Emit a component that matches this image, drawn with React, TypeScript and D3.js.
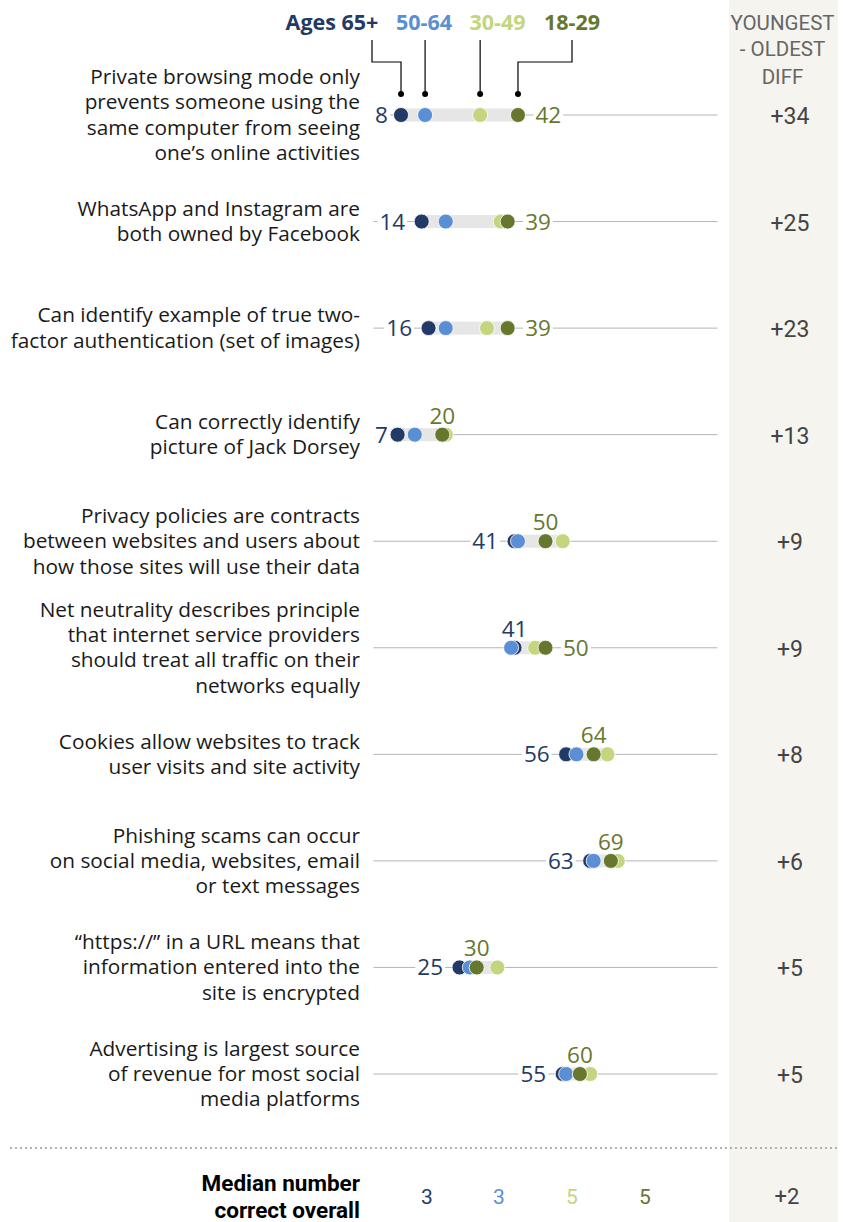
import React from 'react';
import * as d3 from 'd3';

const questions = [
  ['Private browsing mode only', 'prevents someone using the', 'same computer from seeing', 'one\u2019s online activities'],
  ['WhatsApp and Instagram are', 'both owned by Facebook'],
  ['Can identify example of true two-', 'factor authentication (set of images)'],
  ['Can correctly identify', 'picture of Jack Dorsey'],
  ['Privacy policies are contracts', 'between websites and users about', 'how those sites will use their data'],
  ['Net neutrality describes principle', 'that internet service providers', 'should treat all traffic on their', 'networks equally'],
  ['Cookies allow websites to track', 'user visits and site activity'],
  ['Phishing scams can occur', 'on social media, websites, email', 'or text messages'],
  ['\u201Chttps://\u201D in a URL means that', 'information entered into the', 'site is encrypted'],
  ['Advertising is largest source', 'of revenue for most social', 'media platforms']
];

const ageGroups = ['Ages 65+', '50-64', '30-49', '18-29'];
const age65 = [8, 14, 16, 7, 41, 41, 56, 63, 25, 55];
const age50 = [15, 21, 21, 12, 42, 40, 59, 64, 28, 56];
const age30 = [31, 37, 33, 21, 55, 47, 68, 71, 36, 63];
const age18 = [42, 39, 39, 20, 50, 50, 64, 69, 30, 60];
const medians = [3, 3, 5, 5];

const colors = ['#233a66', '#5b8fd5', '#c3d57e', '#66772e'];

const font = '"Open Sans", Roboto, sans-serif';
const narrow = 'Roboto, sans-serif';

const App = () => {
  const width = 843;
  const height = 1222;

  const x = d3.scaleLinear().domain([0, 100]).range([373.5, 717.5]);
  const y = d3
    .scalePoint<number>()
    .domain(questions.map((q, i) => i))
    .range([115, 1074]);

  const series = [age65, age50, age30, age18];
  const r = 7.5;
  const digitW = 12.9;

  // legend centers over the first row
  const legendX = [332, 424, 497.5, 572];
  const firstDots = series.map(s => x(s[0]));
  const connectorY = { top: 40, elbow: 62, dot: 94 };
  const connectors = [
    `M${372},${connectorY.top}V${connectorY.elbow}H${firstDots[0]}V${connectorY.dot}`,
    `M${firstDots[1]},${connectorY.top}V${connectorY.dot}`,
    `M${firstDots[2]},${connectorY.top}V${connectorY.dot}`,
    `M${legendX[3]},${connectorY.top}V${connectorY.elbow}H${firstDots[3]}V${connectorY.dot}`
  ];

  const medianX = [427, 499, 572, 645];

  const rows = questions.map((lines, i) => {
    const cy = y(i)!;
    const vals = series.map(s => s[i]);
    const lo = d3.min(vals)!;
    const hi = d3.max(vals)!;
    const oldIsMin = age65[i] === lo;
    const youngIsMax = age18[i] === hi;
    const lineH = 25.3;
    const startY = cy - ((lines.length - 1) * lineH) / 2;

    const oldW = String(age65[i]).length * digitW;
    const oldLabel = oldIsMin
      ? { x: Math.max(x(age65[i]) - r - 9, 375 + oldW), y: cy + 8, anchor: 'end' }
      : { x: x(age65[i]), y: cy - 11, anchor: 'middle' };
    const youngLabel = youngIsMax
      ? { x: x(age18[i]) + r + 10, y: cy + 8, anchor: 'start' }
      : { x: x(age18[i]), y: cy - 11, anchor: 'middle' };

    const valueLabel = (v: number, l: any, color: string) => {
      const w = String(v).length * digitW;
      const bx = l.anchor === 'end' ? l.x - w : l.anchor === 'middle' ? l.x - w / 2 : l.x;
      return (
        <g>
          <rect x={bx - 2} y={l.y - 18} width={w + 4} height={21} fill="#fff" />
          <text x={l.x} y={l.y} textAnchor={l.anchor} fontSize={22.5} fill={color}>
            {v}
          </text>
        </g>
      );
    };

    return (
      <g key={i}>
        {lines.map((t, j) => (
          <text key={j} x={360} y={startY + j * lineH + 7} textAnchor="end" fontSize={20.8} fill="#1a1a1a">
            {t}
          </text>
        ))}
        <line x1={x(0)} x2={x(100)} y1={cy} y2={cy} stroke="#b5b5b5" strokeWidth={1} />
        <rect x={x(lo)} y={cy - 6.5} width={x(hi) - x(lo)} height={13} fill="#e6e6e6" />
        {valueLabel(age65[i], oldLabel, colors[0])}
        {valueLabel(age18[i], youngLabel, colors[3])}
        {series.map((s, k) => (
          <circle key={k} cx={x(s[i])} cy={cy} r={r} fill={colors[k]} stroke="#fff" strokeWidth={0.8} />
        ))}
        <text x={790} y={cy + 9} textAnchor="middle" fontSize={23} fill="#444" fontFamily={narrow}>
          {`+${age18[i] - age65[i]}`}
        </text>
      </g>
    );
  });

  return (
    <svg
      width={width}
      height={height}
      style={{ position: 'absolute', left: 0, top: 0, display: 'block' }}
      fontFamily={font}
    >
      <rect x={729} y={0} width={109} height={height} fill="#f5f4ef" />
      <g fill="#666" fontSize={20.5} textAnchor="middle" fontFamily={narrow}>
        <text x={782.5} y={30}>YOUNGEST</text>
        <text x={782.5} y={56}>- OLDEST</text>
        <text x={782.5} y={84}>DIFF</text>
      </g>

      <g fontWeight="bold" fontSize={21.5} textAnchor="middle">
        {ageGroups.map((g, k) => (
          <text key={g} x={legendX[k]} y={29.5} fill={colors[k]}>
            {g}
          </text>
        ))}
      </g>
      <g fill="none" stroke="#000" strokeWidth={1.2}>
        {connectors.map((d, k) => (
          <path key={k} d={d} />
        ))}
      </g>
      {firstDots.map((cx, k) => (
        <circle key={k} cx={cx} cy={connectorY.dot} r={3} fill="#000" />
      ))}

      {rows}

      <line x1={10} x2={838} y1={1148} y2={1148} stroke="#999" strokeWidth={1.5} strokeDasharray="2,3" />
      <g fontWeight="bold" fontSize={22.5} textAnchor="end" fill="#000" fontFamily={narrow}>
        <text x={360} y={1191}>Median number</text>
        <text x={360} y={1218}>correct overall</text>
      </g>
      {medians.map((m, k) => (
        <text key={k} x={medianX[k]} y={1204} textAnchor="middle" fontSize={21} fill={colors[k]} fontFamily={narrow}>
          {m}
        </text>
      ))}
      <text x={787} y={1204} textAnchor="middle" fontSize={22} fill="#444" fontFamily={narrow}>
        {`+${medians[3] - medians[0]}`}
      </text>
    </svg>
  );
};

export default App;
